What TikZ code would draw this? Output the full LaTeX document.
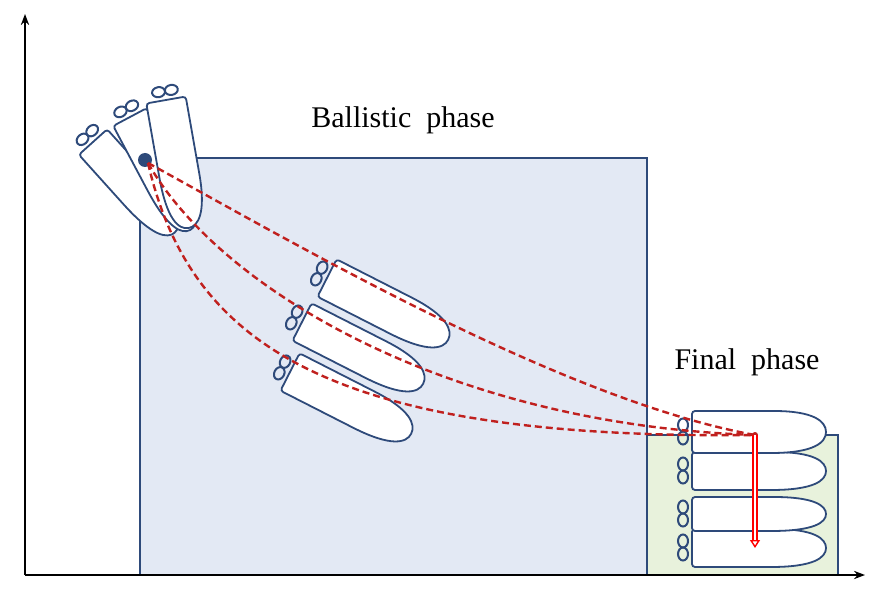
\documentclass[tikz,border=0pt]{standalone}
\usepackage{fontspec}
\setmainfont{Liberation Serif}
\usetikzlibrary{arrows.meta}
\definecolor{shipc}{HTML}{2E4A7A}
\definecolor{boxb}{HTML}{E3E9F4}
\definecolor{boxg}{HTML}{E8F2DC}
\definecolor{trajc}{HTML}{C0201E}
\tikzset{
  hull/.style={draw=shipc,line width=1.8pt,fill=white,rounded corners=3pt},
  prop/.style={draw=shipc,line width=2pt},
  traj/.style={draw=trajc,line width=2.4pt,dash pattern=on 7pt off 4pt},
  lbl/.style={font=\fontsize{30}{33}\selectfont,inner sep=0pt}
}
% \shipx{x}{y}{angle}{L}{W}
\newcommand{\shipx}[5]{%
  \begin{scope}[shift={(#1,#2)},rotate=-#3]
    \pgfmathsetmacro{\hh}{#5/2}
    \pgfmathsetmacro{\bb}{#4-55}
    \draw[hull] (0,-\hh) -- (\bb,-\hh) [sharp corners] .. controls (#4-12,-\hh) and (#4,-\hh/2) .. (#4,0) .. controls (#4,\hh/2) and (#4-12,\hh) .. (\bb,\hh) [rounded corners=3pt] -- (0,\hh) -- cycle;
    \draw[prop] (-9,-7) ellipse (5pt and 6.5pt);
    \draw[prop] (-9,6) ellipse (5pt and 6.5pt);
  \end{scope}}
\begin{document}
\begin{tikzpicture}[x=1pt,y=-1pt]
\useasboundingbox (0,0) rectangle (888,601);
\draw[draw=shipc,line width=1.8pt,fill=boxb] (140,158) rectangle (647,575);
\draw[draw=shipc,line width=1.8pt,fill=boxg] (647,435) rectangle (838,575);
\draw[line width=2pt,-{Stealth[length=11pt]}] (25,575) -- (865,575);
\draw[line width=2pt,-{Stealth[length=11pt]}] (25,575) -- (25,14);
\node[lbl] (ball) at (403,120) {Ballistic\ \ phase};
\node[lbl] (fin) at (747,362) {Final\ \ phase};
% initial ships
\shipx{93}{142}{48}{122}{38}
\shipx{130}{117}{62}{128}{38}
\shipx{166}{100}{80}{130}{40}
% middle ships
\shipx{327}{278}{27}{136}{42}
\shipx{302}{322}{27}{136}{42}
\shipx{290}{372}{27}{136}{42}
% final ships
\shipx{692}{548}{0}{134}{38}
\shipx{692}{514}{0}{134}{34}
\shipx{692}{471}{0}{134}{38}
\shipx{692}{432}{0}{134}{42}
\fill[shipc] (145,160) circle (7pt);
\coordinate (s) at (148,163);
\coordinate (e) at (755,435);
\draw[traj] (s) .. controls (280,235) and (560,400) .. (e);
\draw[traj] (s) .. controls (220,290) and (450,425) .. (e);
\draw[traj] (s) .. controls (190,345) and (330,440) .. (e);
\fill[trajc] (e) circle (3pt);
\draw[draw=red,line width=1.4pt,double=white,double distance=2.5pt,-{Triangle[open,length=8pt,width=10pt]}] (e) -- ++(0,113) coordinate (ee);
\end{tikzpicture}
\end{document}
